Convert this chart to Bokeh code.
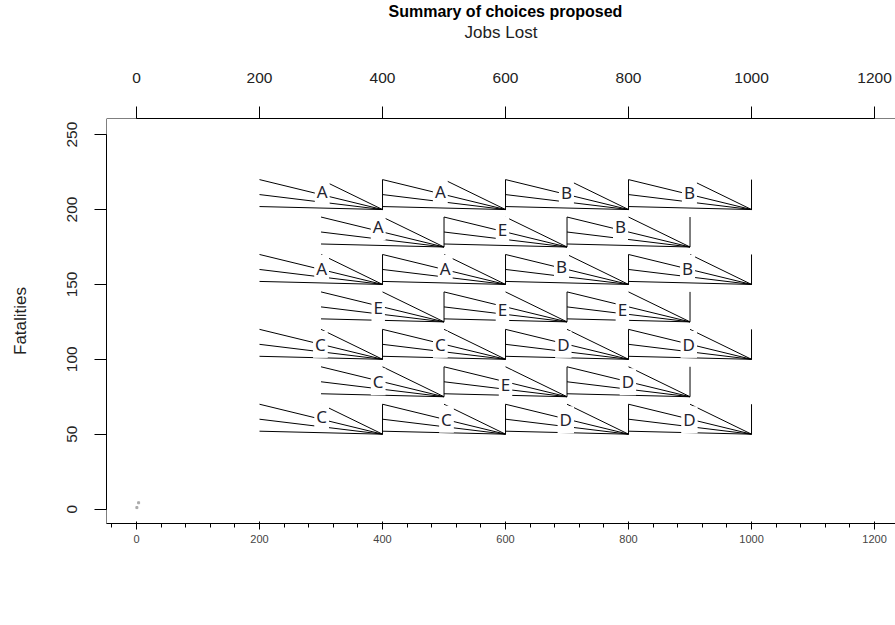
from bokeh.plotting import figure
from bokeh.models import ColumnDataSource, FixedTicker, Span, Range1d, LinearAxis
from bokeh.core.properties import value
from bokeh.embed import file_html
from bokeh.resources import INLINE

# ---- data ----
cell_x0 = [200, 400, 600, 800, 300, 500, 700, 200, 400, 600, 800,
           300, 500, 700, 200, 400, 600, 800, 300, 500, 700, 200, 400, 600, 800]
cell_y0 = [200, 200, 200, 200, 175, 175, 175, 150, 150, 150, 150,
           125, 125, 125, 100, 100, 100, 100, 75, 75, 75, 50, 50, 50, 50]
choice = ["A", "A", "B", "B", "A", "E", "B", "A", "A", "B", "B",
          "E", "E", "E", "C", "C", "D", "D", "C", "E", "D", "C", "C", "D", "D"]
label_x = [302, 494, 699, 899, 393, 595, 787, 301, 502, 691, 896,
           393, 595, 790, 299, 494, 694, 898, 393, 600, 799, 301, 504, 698, 899]
label_y = [212, 212, 211.5, 211.5, 188.5, 186.5, 188.5, 160.8, 160.8, 162, 160.8,
           134.5, 133, 133, 110, 110, 110, 110, 85, 83.5, 85, 61.5, 60, 59.6, 59.6]
fan_heights = [20, 10, 2]          # left ends of the fan lines (relative)
cell_width = 200
steep_start = (100, 20)
corner_height = 20
origin_x = [0.6, 3.4]
origin_y = [1.0, 4.2]

x_ticks = [0, 200, 400, 600, 800, 1000, 1200]
y_ticks = [0, 50, 100, 150, 200, 250]
title_text = "Summary of choices proposed"

X0, X1 = -48.8, 1234.1
Y0, Y1 = -9.64, 260.8

# ---- figure ----
p = figure(width=895, height=625, output_backend="svg", toolbar_location=None,
           x_range=Range1d(X0, X1), y_range=Range1d(Y0, Y1),
           min_border_left=106, min_border_right=0, min_border_top=74,
           min_border_bottom=102)
p.grid.visible = False
p.outline_line_color = None
p.background_fill_color = "white"
p.border_fill_color = "white"

# invisible top axis used only as a spacer between the frame and the title
spacer = LinearAxis(ticker=FixedTicker(ticks=[]), major_tick_out=44,
                    major_tick_in=0, axis_line_color=None,
                    major_tick_line_color=None, minor_tick_line_color=None,
                    major_label_text_font_size="0px")
p.add_layout(spacer, "above")

p.title.text = title_text
p.title.align = "left"
p.title.offset = 282
p.title.standoff = 0
p.title.vertical_align = "bottom"
p.title.text_font = "Liberation Sans"
p.title.text_font_size = "16px"
p.title.text_font_style = "bold"
p.title.text_color = "black"

# fan lines
xs, ys = [], []
for x0, y0 in zip(cell_x0, cell_y0):
    cx, cy = x0 + cell_width, y0
    for h in fan_heights:
        xs.append([x0, cx]); ys.append([y0 + h, cy])
    xs.append([x0 + steep_start[0], cx]); ys.append([y0 + steep_start[1], cy])
    xs.append([cx, cx]); ys.append([cy, cy + corner_height])
p.multi_line(xs=xs, ys=ys, line_color="black", line_width=1)

src = ColumnDataSource(dict(x=label_x, y=label_y, t=choice))
p.text(x="x", y="y", text="t", source=src, text_align="center",
       text_baseline="middle", text_font=value("Noto Sans"),
       text_font_size="17px", text_color="#1f2430",
       background_fill_color="white", padding=2)

p.scatter(origin_x, origin_y, size=2, color="#aaaaaa", marker="square")

# box edges (left, top, bottom)
for loc, dim in [(X0, "height"), (Y1, "width"), (Y0, "width")]:
    p.add_layout(Span(location=loc, dimension=dim, line_color="black", line_width=1))

for ax, ticks in [(p.xaxis[0], x_ticks), (p.yaxis[0], y_ticks)]:
    ax.ticker = FixedTicker(ticks=ticks)
    ax.minor_tick_line_color = None
    ax.major_tick_in = 0
    ax.major_tick_out = 12
    ax.major_tick_line_color = "black"
    ax.axis_line_color = "black"
    ax.major_label_text_font = "Liberation Sans"
    ax.major_label_text_font_size = "15.5px"
    ax.major_label_text_color = "#222222"
    ax.axis_label_text_font = "Liberation Sans"
    ax.axis_label_text_font_size = "17px"
    ax.axis_label_text_font_style = "normal"
    ax.axis_label_text_color = "#222222"
    ax.bounds = (ticks[0], ticks[-1])

p.xaxis[0].axis_label = "Jobs Lost"
p.yaxis[0].axis_label = "Fatalities"
p.xaxis[0].major_label_standoff = 24
p.xaxis[0].axis_label_standoff = 28
p.yaxis[0].major_label_standoff = 17
p.yaxis[0].axis_label_standoff = 35
p.yaxis[0].major_label_orientation = "vertical"

open("out.html", "w").write(file_html(p, INLINE))
